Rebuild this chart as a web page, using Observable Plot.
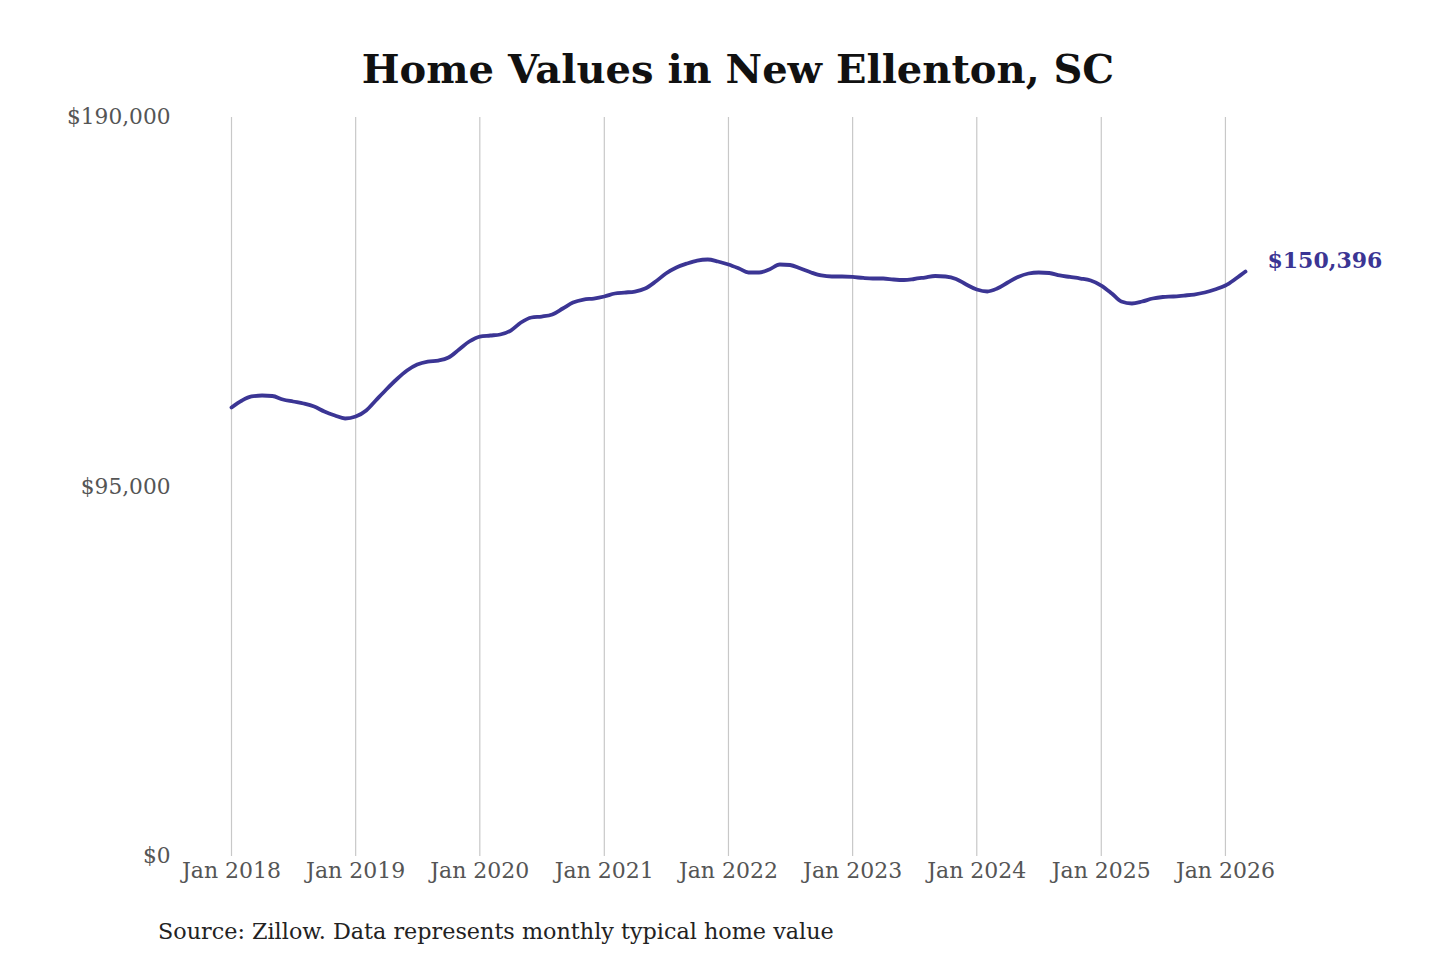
<!DOCTYPE html>
<html>
<head>
<meta charset="utf-8">
<script src="https://cdn.jsdelivr.net/npm/d3@7"></script>
<script src="https://cdn.jsdelivr.net/npm/@observablehq/plot@0.6"></script>
<style>
  body { margin: 0; background: #fff; width: 1440px; height: 960px; overflow: hidden; font-family: "DejaVu Serif", serif; }
  #title { position: absolute; left: 0; width: 1476px; top: 45px; text-align: center; font-size: 40px; font-weight: bold; color: #111; }
  #chart { position: absolute; left: 0; top: 100px; }
  #caption { position: absolute; left: 158px; top: 918px; font-size: 22.3px; color: #222; }
</style>
</head>
<body>
<div id="title">Home Values in New Ellenton, SC</div>
<div id="chart"></div>
<div id="caption">Source: Zillow. Data represents monthly typical home value</div>
<script>
const startYear = 2018;
const values = [
  // 2018
  115440, 117240, 118270, 118520, 118400, 117500, 116980, 116470, 115700, 114400, 113380, 112610,
  // 2019
  113120, 114670, 117240, 120070, 122640, 124950, 126490, 127260, 127520, 128290, 130350, 132410,
  // 2020
  133690, 133950, 134210, 135230, 137290, 138580, 138830, 139350, 140890, 142430, 143200, 143460,
  // 2021
  143980, 144750, 145000, 145260, 146030, 147830, 149890, 151430, 152460, 153230, 153490, 152970,
  // 2022
  152200, 151170, 150150, 150150, 150920, 152200, 152080, 151170, 150150, 149380, 149120, 149120,
  // 2023
  149000, 148740, 148600, 148600, 148350, 148220, 148480, 148860, 149250, 149120, 148480, 147060,
  // 2024
  145780, 145260, 146030, 147580, 149000, 149890, 150150, 150020, 149380, 149000, 148600, 148090,
  // 2025
  146800, 144750, 142690, 142180, 142690, 143460, 143850, 143980, 144230, 144490, 145000, 145780,
  // 2026
  146800, 148600, 150396
];
const yTicks = [0, 95000, 190000];
const xTickYears = [2018, 2019, 2020, 2021, 2022, 2023, 2024, 2025, 2026];
const lastLabel = "$150,396";

const data = values.map((v, i) => ({ date: new Date(startYear, i, 1), value: v }));
const januaries = xTickYears.map(y => new Date(y, 0, 1));
const last = data[data.length - 1];

const fmtDollar = d3.format("$,");
const lineColor = "#3b3594";

const chart = Plot.plot({
  width: 1440,
  height: 800,
  marginTop: 17,
  marginBottom: 44,
  marginLeft: 231,
  marginRight: 195,
  style: { fontFamily: "DejaVu Serif, serif", background: "transparent" },
  x: { type: "time", domain: [data[0].date, last.date], label: null },
  y: { domain: [0, 190000], label: null },
  marks: [
    Plot.ruleX(januaries, { stroke: "#c8c8c8", strokeWidth: 1.2 }),
    Plot.axisX(januaries, {
      tickSize: 0, tickPadding: 6, fontSize: 22, fill: "#555", label: null,
      tickFormat: d => "Jan " + d.getFullYear()
    }),
    Plot.axisY(yTicks, {
      tickSize: 0, tickPadding: 61, fontSize: 21.7, fill: "#555", label: null,
      tickFormat: fmtDollar
    }),
    Plot.line(data, { x: "date", y: "value", stroke: lineColor, strokeWidth: 3.8, curve: "monotone-x" }),
    Plot.text([last], {
      x: "date", y: "value", text: () => lastLabel, textAnchor: "start",
      dx: 22, dy: -11, fontSize: 22, fontWeight: "bold", fill: lineColor
    })
  ]
});
document.getElementById("chart").appendChild(chart);
</script>
</body>
</html>
